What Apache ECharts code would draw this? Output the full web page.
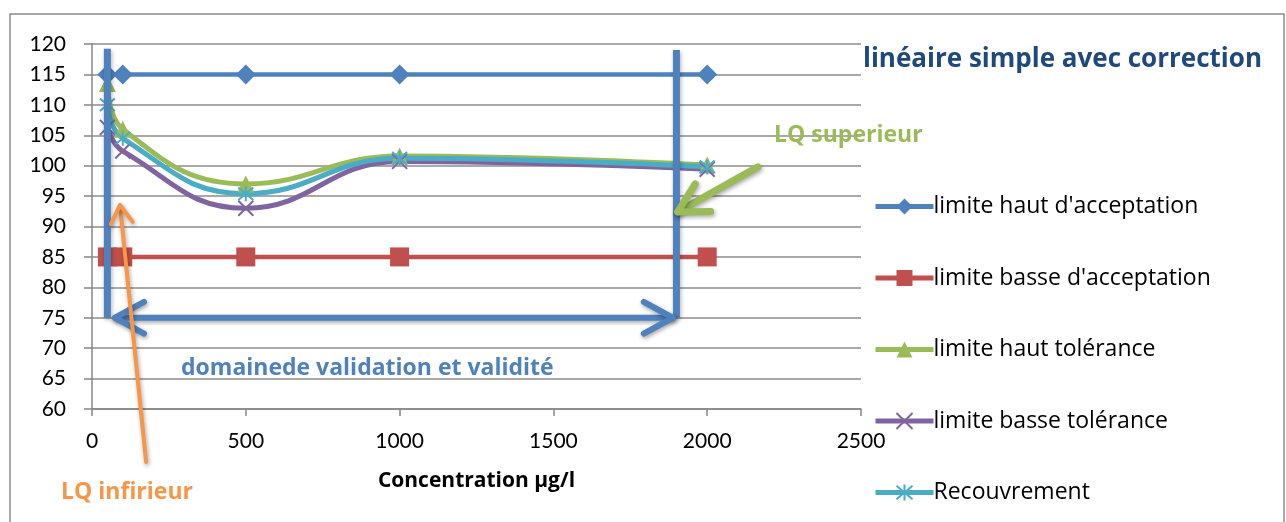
<!DOCTYPE html>
<html>
<head>
<meta charset="utf-8">
<script src="https://cdn.jsdelivr.net/npm/echarts@6/dist/echarts.min.js"></script>
<style>
  html, body { margin: 0; padding: 0; background: #fff; }
  #chart-container { width: 1286px; height: 522px; }
</style>
</head>
<body>
<div id="chart-container"></div>
<script>
// concentrations (µg/l)
var concentrations = [50, 100, 500, 1000, 2000];

var hautAcceptation = [115, 115, 115, 115, 115];
var basseAcceptation = [85, 85, 85, 85, 85];
var hautTolerance = [113.5, 106, 97, 101.6, 100.1];
var basseTolerance = [106.3, 102.4, 93, 100.7, 99.4];
var recouvrement = [110, 104.5, 95.4, 101.2, 99.8];

var xTicks = [0, 500, 1000, 1500, 2000, 2500];
var yTicks = [60, 65, 70, 75, 80, 85, 90, 95, 100, 105, 110, 115, 120];

// annotation lines, in data coordinates [x1, y1, x2, y2]
var borneInf = [50, 119.2, 50, 75];
var borneSup = [1900, 119.0, 1900, 75];
var domaineArrow = [75, 75, 1888, 75];
var lqInfArrow = [176, 51.3, 91, 93.5];
var lqSupArrow = [2165, 99.8, 1904, 92.4];

function zip(xs, ys) {
  return xs.map(function (x, i) { return [x, ys[i]]; });
}

var FONT = "Lato, 'Noto Sans', sans-serif";
var FONT2 = "'Open Sans', 'Noto Sans', sans-serif";
var xSym = "path://M0,0L10,10M10,0L0,10";
var starSym = "path://M0,0L10,10M10,0L0,10M5,-1L5,11";

var dom = document.getElementById("chart-container");
var myChart = echarts.init(dom, null, { renderer: "canvas" });

var option = {
  backgroundColor: "#fff",
  animation: false,
  grid: { left: 92, right: 425, top: 44, bottom: 113, containLabel: false },
  legend: {
    orient: "vertical",
    left: 868,
    top: 190,
    height: 330,
    itemWidth: 58,
    itemHeight: 20,
    itemGap: 48.5,
    lineStyle: { width: 5 },
    textStyle: { fontFamily: FONT2, fontSize: 23, color: "#000", lineHeight: 20, padding: [0, 0, 0, -5] },
    data: ["limite haut d'acceptation", "limite basse d'acceptation", "limite haut tolérance", "limite basse tolérance", "Recouvrement"]
  },
  xAxis: {
    type: "value",
    min: xTicks[0],
    max: xTicks[xTicks.length - 1],
    interval: 500,
    name: "Concentration µg/l",
    nameLocation: "middle",
    nameGap: 62,
    nameTextStyle: { fontFamily: FONT2, fontSize: 21, fontWeight: "bold", color: "#000" },
    axisLine: { lineStyle: { color: "#868686", width: 1.5 } },
    axisTick: { show: true, length: 7, lineStyle: { color: "#868686", width: 1.5 } },
    axisLabel: { fontFamily: FONT, fontSize: 21, color: "#000", margin: 22, formatter: function (v) { return String(v); } },
    splitLine: { show: false }
  },
  yAxis: {
    type: "value",
    min: yTicks[0],
    max: yTicks[yTicks.length - 1],
    interval: 5,
    axisLine: { show: true, lineStyle: { color: "#868686", width: 1.5 } },
    axisTick: { show: true, length: 8, lineStyle: { color: "#868686", width: 1.5 } },
    axisLabel: { fontFamily: FONT, fontSize: 21, color: "#000", margin: 26 },
    splitLine: { lineStyle: { color: "#8c8c8c", width: 1.5 } }
  },
  series: [
    {
      name: "limite haut d'acceptation",
      type: "line",
      data: zip(concentrations, hautAcceptation),
      symbol: "diamond",
      symbolSize: 20,
      lineStyle: { color: "#4F81BD", width: 4.5 },
      itemStyle: { color: "#4F81BD" }
    },
    {
      name: "limite basse d'acceptation",
      type: "line",
      data: zip(concentrations, basseAcceptation),
      symbol: "rect",
      symbolSize: 19,
      lineStyle: { color: "#C0504D", width: 4.5 },
      itemStyle: { color: "#C0504D" }
    },
    {
      name: "limite haut tolérance",
      type: "line",
      smooth: 0.45,
      data: zip(concentrations, hautTolerance),
      symbol: "triangle",
      symbolSize: 17,
      lineStyle: { color: "#9BBB59", width: 5 },
      itemStyle: { color: "#9BBB59" }
    },
    {
      name: "limite basse tolérance",
      type: "line",
      smooth: 0.45,
      data: zip(concentrations, basseTolerance),
      symbol: xSym,
      symbolSize: 15,
      lineStyle: { color: "#8064A2", width: 5 },
      itemStyle: { color: "none", borderColor: "#8064A2", borderWidth: 2 }
    },
    {
      name: "Recouvrement",
      type: "line",
      smooth: 0.45,
      data: zip(concentrations, recouvrement),
      symbol: starSym,
      symbolSize: 15,
      lineStyle: { color: "#4BACC6", width: 5 },
      itemStyle: { color: "none", borderColor: "#4BACC6", borderWidth: 2 }
    }
  ]
};

myChart.setOption(option);

function px(x, y) {
  return myChart.convertToPixel({ gridIndex: 0 }, [x, y]);
}

function head(tip, from, len, ang) {
  var a = Math.atan2(from[1] - tip[1], from[0] - tip[0]);
  return [
    [tip[0] + len * Math.cos(a + ang), tip[1] + len * Math.sin(a + ang)],
    tip,
    [tip[0] + len * Math.cos(a - ang), tip[1] + len * Math.sin(a - ang)]
  ];
}

function arrow(seg, color, width, len, ang, both) {
  var p1 = px(seg[0], seg[1]);
  var p2 = px(seg[2], seg[3]);
  var st = { stroke: color, lineWidth: width, lineCap: "round", lineJoin: "round", fill: null,
    shadowBlur: 4, shadowColor: "rgba(0,0,0,0.35)", shadowOffsetX: 1, shadowOffsetY: 2 };
  var els = [
    { type: "line", z: 100, shape: { x1: p1[0], y1: p1[1], x2: p2[0], y2: p2[1] }, style: st },
    { type: "polyline", z: 100, shape: { points: head(p2, p1, len, ang) }, style: st }
  ];
  if (both) {
    els.push({ type: "polyline", z: 100, shape: { points: head(p1, p2, len, ang) }, style: st });
  }
  return els;
}

function bar(seg) {
  var p1 = px(seg[0], seg[1]);
  var p2 = px(seg[2], seg[3]);
  return { type: "line", z: 100, shape: { x1: p1[0], y1: p1[1], x2: p2[0], y2: p2[1] },
    style: { stroke: "#4F81BD", lineWidth: 7, shadowBlur: 4, shadowColor: "rgba(0,0,0,0.3)", shadowOffsetX: 1, shadowOffsetY: 2 } };
}

function label(text, x, y, color, size) {
  return { type: "text", z: 101, x: x, y: y,
    style: { text: text, fill: color, font: "bold " + size + "px " + FONT2, textVerticalAlign: "middle" } };
}

var elements = [
  { type: "rect", z: 0, shape: { x: 10, y: 14, width: 1274, height: 520 },
    style: { fill: null, stroke: "#8c8c8c", lineWidth: 1.5 } },
  bar(borneInf),
  bar(borneSup)
];
elements = elements.concat(arrow(domaineArrow, "#4F81BD", 6, 33, 0.5, true));
elements = elements.concat(arrow(lqInfArrow, "#F79646", 4, 21, 0.55, false));
elements = elements.concat(arrow(lqSupArrow, "#9BBB59", 7, 33, 0.5, false));
elements.push(label("linéaire simple avec correction", 863, 60, "#1F497D", 26));
elements.push(label("LQ superieur", 774, 135, "#9BBB59", 23));
elements.push(label("domainede validation et validité", 181, 368, "#4F81BD", 23));
elements.push(label("LQ infirieur", 61, 492, "#F79646", 23));

myChart.setOption({ graphic: { elements: elements } });

window.addEventListener("resize", myChart.resize);
</script>
</body>
</html>
